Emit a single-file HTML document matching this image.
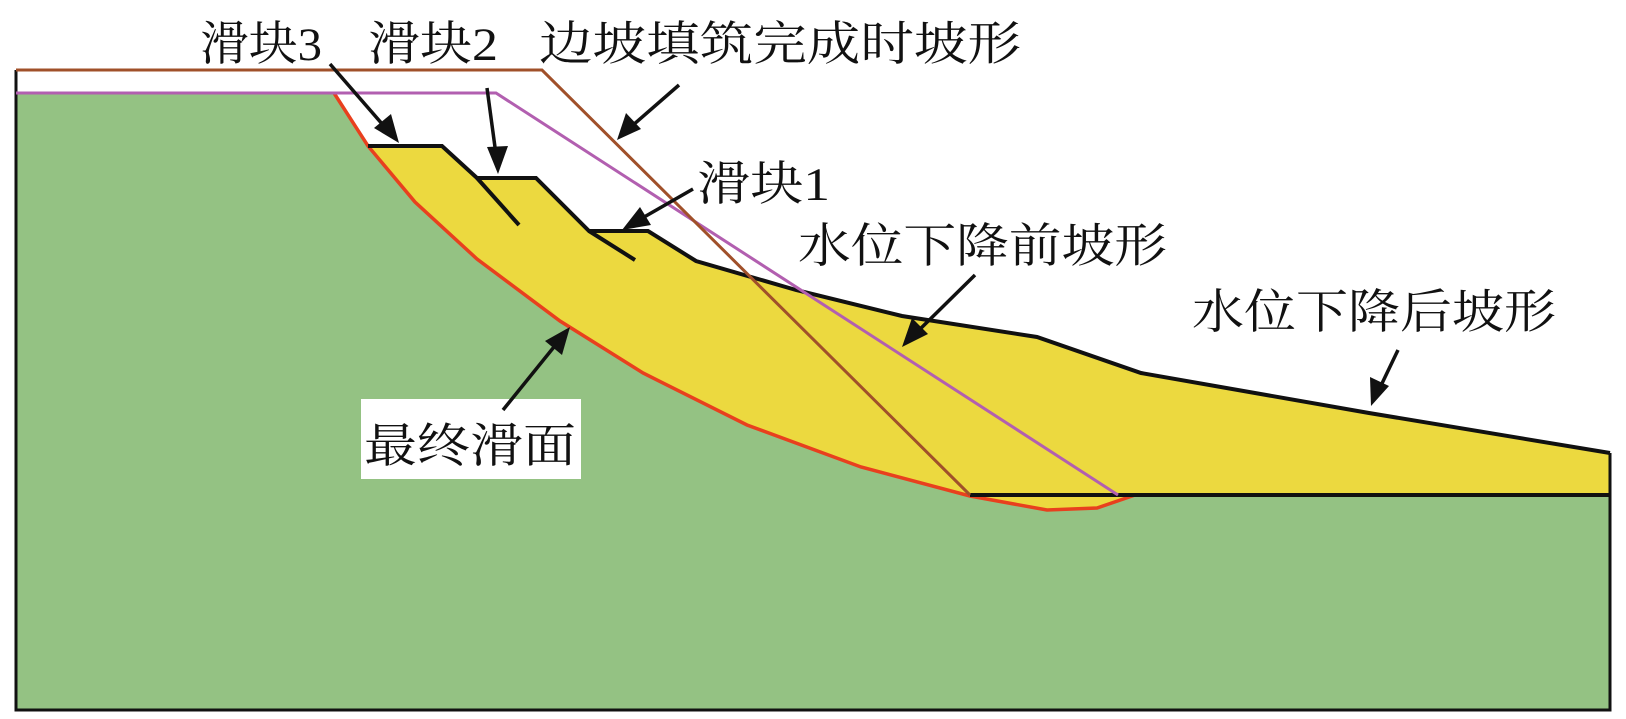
<!DOCTYPE html>
<html><head><meta charset="utf-8"><style>
html,body{margin:0;padding:0;background:#fff;}
svg{display:block}
text{font-family:"Liberation Serif","Noto Serif CJK SC",serif;fill:#111;}
</style></head><body>
<svg width="1626" height="719" viewBox="0 0 1626 719" xmlns="http://www.w3.org/2000/svg">
<defs>
<marker id="ah" markerWidth="10" markerHeight="8" refX="9" refY="4" orient="auto" markerUnits="userSpaceOnUse" viewBox="0 0 10 8" style="overflow:visible">
</marker>
</defs>
<rect x="0" y="0" width="1626" height="719" fill="#fff"/>
<!-- green ground -->
<polygon fill="#94c283" points="16,93 334,93 368,146 415,202 477,259 560,321 643,373 747,425 861,467 970,496 1047,510 1097,508 1135,495 1610,495 1610,710 16,710"/>
<!-- yellow slid mass -->
<polygon fill="#ecd93f" points="368,146 442,146 477,178 536,178 589,231 648,231 696,261 796,290 902,316 1037,337 1141,373 1369,413 1610,453 1610,495 1135,495 1097,508 1047,510 970,496 861,467 747,425 643,373 560,321 477,259 415,202"/>
<!-- red slip surface -->
<polyline fill="none" stroke="#e8401e" stroke-width="3.5" points="334,93 368,146 415,202 477,259 560,321 643,373 747,425 861,467 970,496 1047,510 1097,508 1135,495"/>
<!-- black post-drawdown profile -->
<polyline fill="none" stroke="#111" stroke-width="4" points="368,146 442,146 477,178 536,178 589,231 648,231 696,261 796,290 902,316 1037,337 1141,373 1369,413 1610,453"/>
<line x1="477" y1="178" x2="519" y2="225" stroke="#111" stroke-width="4"/>
<line x1="589" y1="231" x2="635" y2="260" stroke="#111" stroke-width="4"/>
<line x1="970" y1="495" x2="1610" y2="495" stroke="#111" stroke-width="4"/>
<!-- frame -->
<polyline fill="none" stroke="#111" stroke-width="3" points="16,70 16,710 1610,710 1610,453"/>
<!-- purple pre-drawdown -->
<polyline fill="none" stroke="#b25fb0" stroke-width="3" points="16,93 496,93 1118,495"/>
<!-- brown fill completion -->
<polyline fill="none" stroke="#a0502a" stroke-width="3" points="16,70 542,70 970,495"/>
<!-- white box -->
<rect x="361" y="399" width="220" height="80" fill="#fff"/>
<!-- arrows -->
<g stroke="#111" stroke-width="3.5" fill="#111">
<line x1="330" y1="64" x2="390" y2="133"/>
<line x1="487" y1="88" x2="497" y2="162"/>
<line x1="679" y1="85" x2="625" y2="132"/>
<line x1="693" y1="189" x2="632" y2="224"/>
<line x1="975" y1="275" x2="911" y2="338"/>
<line x1="1398" y1="350" x2="1376" y2="396"/>
<line x1="503" y1="410" x2="562" y2="337"/>
</g>
<g fill="#111">
<polygon points="399,143 374,128 391,114"/>
<polygon points="498,174 487,147 508,146"/>
<polygon points="617,140 626,113 641,129"/>
<polygon points="622,230 640,207 651,225"/>
<polygon points="902,347 912,318 928,334"/>
<polygon points="1371,406 1370,377 1389,386"/>
<polygon points="570,327 562,355 545,341"/>
</g>
<!-- labels -->
<text x="200" y="60" font-size="47" textLength="122" lengthAdjust="spacingAndGlyphs">滑块3</text>
<text x="368" y="60" font-size="47" textLength="130" lengthAdjust="spacingAndGlyphs">滑块2</text>
<text x="539" y="60" font-size="47" textLength="482" lengthAdjust="spacingAndGlyphs">边坡填筑完成时坡形</text>
<text x="697" y="200" font-size="47" textLength="133" lengthAdjust="spacingAndGlyphs">滑块1</text>
<text x="798" y="262" font-size="47" textLength="369" lengthAdjust="spacingAndGlyphs">水位下降前坡形</text>
<text x="1192" y="328" font-size="47" textLength="364" lengthAdjust="spacingAndGlyphs">水位下降后坡形</text>
<text x="364" y="462" font-size="47" textLength="212" lengthAdjust="spacingAndGlyphs">最终滑面</text>
</svg>
</body></html>
